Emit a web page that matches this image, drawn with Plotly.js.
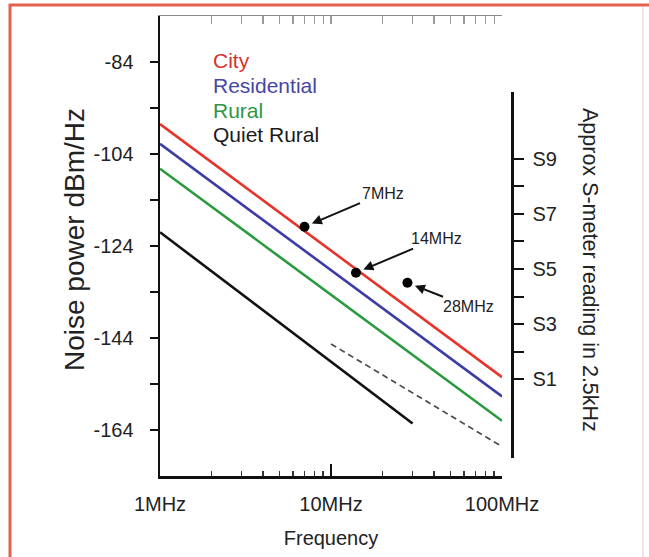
<!DOCTYPE html>
<html>
<head>
<meta charset="utf-8">
<script src="https://cdn.plot.ly/plotly-3.0.1.min.js"></script>
<style>
  html, body { margin: 0; padding: 0; background: #ffffff; }
  #chart { width: 649px; height: 557px; }
</style>
</head>
<body>
<div id="chart"></div>
<script>
// ---- data ----
const freqEnds = [1, 100];                 // MHz
const cityNoise = [-97.5, -152.5];         // dBm/Hz
const residentialNoise = [-101.8, -156.7];
const ruralNoise = [-107.2, -162.0];
const quietRuralFreq = [1, 30];
const quietRuralNoise = [-121.0, -162.6];
const galacticFreq = [10, 100];
const galacticNoise = [-145.3, -167.6];
const bandFreq = [7, 14, 28];
const bandNoise = [-119.8, -129.8, -132.0];
const bandLabels = ['7MHz', '14MHz', '28MHz'];
const seriesNames = ['City', 'Residential', 'Rural', 'Quiet Rural'];
const seriesColors = ['#e6342a', '#3c3ca6', '#2a9a3e', '#111111'];
const legendColors = ['#d8322c', '#4646a6', '#2f9644', '#1a1a1a'];
const yTickVals = [-164, -154, -144, -134, -124, -114, -104, -94, -84];
const yTickText = ['-164', '', '-144', '', '-124', '', '-104', '', '-84'];
const xTickVals = [1, 10, 100];
const xTickText = ['1MHz', '10MHz', '100MHz'];
const xMinorVals = [2, 3, 4, 5, 6, 7, 8, 9, 20, 30, 40, 50, 60, 70, 80, 90];
const xTopVals = [2, 3, 4, 5, 6, 7, 8, 9, 10, 20, 30, 40, 50, 60, 70, 80, 90, 100];
const sLevels = [-153, -147, -141, -135, -129, -123, -117, -111, -105];
const sLabels = ['S1', '', 'S3', '', 'S5', '', 'S7', '', 'S9'];
const xTitle = 'Frequency';
const yTitle = 'Noise power dBm/Hz';
const y2Title = 'Approx S-meter reading in 2.5kHz';

// ---- geometry helpers (pixel -> paper) ----
const W = 649, H = 557;
const mL = 160, mR = 137, mT = 16, mB = 81;
const pw = W - mL - mR, ph = H - mT - mB;
const px = v => (v - mL) / pw;
const py = v => (H - mB - v) / ph;
const yRange = [-174, -74];
// right axis partial domain
const d0 = py(458), d1 = py(92);
const y2Range = [yRange[0] + (yRange[1] - yRange[0]) * d0, yRange[0] + (yRange[1] - yRange[0]) * d1];

const font = 'Liberation Sans, Arial, Helvetica, sans-serif';
const textColor = '#222222';

const lineSeries = [
  {x: freqEnds, y: cityNoise},
  {x: freqEnds, y: residentialNoise},
  {x: freqEnds, y: ruralNoise},
  {x: quietRuralFreq, y: quietRuralNoise}
];

const traces = lineSeries.map((s, i) => ({
  x: s.x, y: s.y, type: 'scatter', mode: 'lines', name: seriesNames[i],
  line: {color: seriesColors[i], width: 2.6}, showlegend: false,
  xaxis: 'x', yaxis: 'y'
}));
traces.push({
  x: galacticFreq, y: galacticNoise, type: 'scatter', mode: 'lines',
  line: {color: '#4a4a4a', width: 1.7, dash: '6px,4px'}, showlegend: false,
  xaxis: 'x', yaxis: 'y'
});
traces.push({
  x: bandFreq, y: bandNoise, type: 'scatter', mode: 'markers',
  marker: {color: '#000000', size: 10}, showlegend: false,
  xaxis: 'x', yaxis: 'y'
});
// dummy traces to create top axis and right S-meter axis
traces.push({x: [], y: [], type: 'scatter', xaxis: 'x2', yaxis: 'y', showlegend: false});
traces.push({x: [], y: [], type: 'scatter', xaxis: 'x', yaxis: 'y2', showlegend: false});

const annotations = [];
// legend as coloured text
const legendY = [60, 85, 110, 135];
seriesNames.forEach((n, i) => {
  annotations.push({
    xref: 'paper', yref: 'paper', x: px(211), y: py(legendY[i]),
    xanchor: 'left', yanchor: 'middle', showarrow: false, text: n,
    font: {family: font, size: 21, color: legendColors[i]}
  });
});
// band labels with arrows
const bandOffsets = [[78, -33], [81, -34], [61, 24]];
bandLabels.forEach((t, i) => {
  annotations.push({
    xref: 'x', yref: 'y', x: Math.log10(bandFreq[i]), y: bandNoise[i],
    text: t, showarrow: true, arrowhead: 2, arrowsize: 1, arrowwidth: 2,
    arrowcolor: '#111111', standoff: 8,
    ax: bandOffsets[i][0], ay: bandOffsets[i][1],
    font: {family: font, size: 16, color: textColor}
  });
});
// left axis title
annotations.push({
  xref: 'paper', yref: 'paper', x: px(75), y: py(240), textangle: -90,
  showarrow: false, text: yTitle,
  font: {family: font, size: 28, color: textColor}, xanchor: 'center', yanchor: 'middle'
});
// right axis title (rotated clockwise)
annotations.push({
  xref: 'paper', yref: 'paper', x: px(590), y: py(270), textangle: 90,
  showarrow: false, text: y2Title,
  font: {family: font, size: 21.5, color: textColor}, xanchor: 'center', yanchor: 'middle'
});

const frameColor = '#e5604e';
const shapes = [
  {type: 'line', xref: 'paper', yref: 'paper', x0: px(9), x1: px(649), y0: py(5), y1: py(5),
   line: {color: frameColor, width: 3}},
  {type: 'line', xref: 'paper', yref: 'paper', x0: px(10), x1: px(10), y0: py(4), y1: py(557),
   line: {color: frameColor, width: 3}},
  {type: 'line', xref: 'paper', yref: 'paper', x0: px(643), x1: px(643), y0: py(7), y1: py(557),
   line: {color: '#f1dcd8', width: 1.5}}
];

const layout = {
  width: W, height: H,
  margin: {l: mL, r: mR, t: mT, b: mB, pad: 0},
  paper_bgcolor: '#ffffff', plot_bgcolor: 'rgba(0,0,0,0)',
  showlegend: false,
  font: {family: font, size: 19, color: textColor},
  xaxis: {
    type: 'log', range: [0, 2], domain: [0, 342 / pw],
    showline: true, linecolor: '#111111', linewidth: 2.5,
    showgrid: false, zeroline: false,
    ticks: 'inside', ticklen: 12, tickwidth: 2, tickcolor: '#111111',
    tickmode: 'array', tickvals: xTickVals, ticktext: xTickText,
    tickfont: {family: font, size: 20, color: textColor},
    ticklabelstandoff: 8,
    minor: {tickmode: 'array', tickvals: xMinorVals, ticks: 'inside', ticklen: 5, tickwidth: 1.5, tickcolor: '#333333', showgrid: false},
    title: {text: xTitle, font: {family: font, size: 20, color: textColor}, standoff: 18},
    anchor: 'y'
  },
  xaxis2: {
    type: 'log', range: [0, 2], overlaying: 'x', side: 'top', anchor: 'y',
    showline: true, linecolor: '#8a8a8a', linewidth: 1.5,
    showgrid: false, zeroline: false,
    ticks: 'inside', ticklen: 8, tickwidth: 1.2, tickcolor: '#9a9a9a',
    tickmode: 'array', tickvals: xTopVals, showticklabels: false
  },
  yaxis: {
    range: yRange, domain: [0, 1],
    showline: true, linecolor: '#111111', linewidth: 2.5,
    showgrid: false, zeroline: false,
    ticks: 'outside', ticklen: 8, tickwidth: 2, tickcolor: '#111111',
    tickmode: 'array', tickvals: yTickVals, ticktext: yTickText,
    tickfont: {family: font, size: 20, color: textColor},
    ticklabelstandoff: 12,
    anchor: 'x'
  },
  yaxis2: {
    range: y2Range, domain: [d0, d1], anchor: 'free', position: 1, side: 'right',
    showline: true, linecolor: '#111111', linewidth: 2.5,
    showgrid: false, zeroline: false,
    ticks: 'outside', ticklen: 10, tickwidth: 2, tickcolor: '#111111',
    tickmode: 'array', tickvals: sLevels, ticktext: sLabels,
    tickfont: {family: font, size: 20, color: textColor},
    ticklabelstandoff: 5
  },
  annotations: annotations,
  shapes: shapes
};

Plotly.newPlot('chart', traces, layout, {staticPlot: true, displayModeBar: false});
</script>
</body>
</html>
